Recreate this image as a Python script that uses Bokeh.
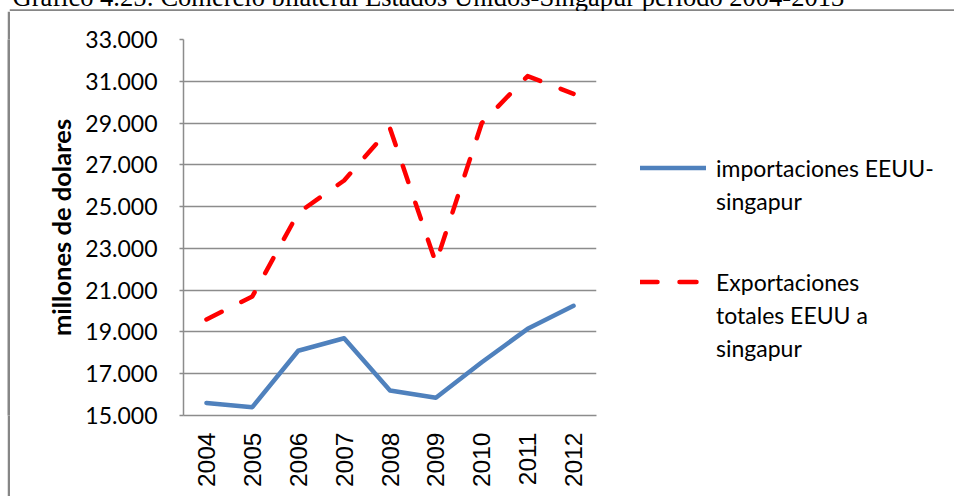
from math import pi
from bokeh.plotting import figure
from bokeh.layouts import column, row
from bokeh.models import (FactorRange, Range1d, FixedTicker, Legend, LegendItem,
                          Label, Span)
from bokeh.embed import file_html
from bokeh.resources import INLINE

# ---- data ----
years = ["2004", "2005", "2006", "2007", "2008", "2009", "2010", "2011", "2012"]
importaciones = [15600, 15400, 18100, 18700, 16200, 15850, 17550, 19150, 20250]
exportaciones = [19600, 20700, 24700, 26250, 28750, 22300, 29000, 31250, 30400]
y_ticks = [15000, 17000, 19000, 21000, 23000, 25000, 27000, 29000, 31000, 33000]
y_tick_labels = ["15.000", "17.000", "19.000", "21.000", "23.000",
                 "25.000", "27.000", "29.000", "31.000", "33.000"]
legend_imp_lines = ["importaciones EEUU-", "singapur"]
legend_exp_lines = ["Exportaciones", "totales EEUU a", "singapur"]
title_text = "Gráfico 4.25: Comercio bilateral Estados Unidos-Singapur periodo 2004-2013"
y_label = "millones de dolares"

GRID = "#8c8c8c"
BOX = "#868686"
BLUE = "#4F81BD"
RED = "#FF0000"


def bare(fig):
    fig.xgrid.grid_line_color = None
    fig.ygrid.grid_line_color = None
    fig.outline_line_color = None
    fig.background_fill_color = "white"
    fig.border_fill_color = "white"
    return fig


# ---- caption strip (mostly above the window) with the top edge of the chart box ----
tfig = bare(figure(width=954, height=32, x_range=Range1d(0, 945), y_range=Range1d(0, 32),
                   min_border_left=9, min_border_right=0, min_border_top=0,
                   min_border_bottom=0, x_axis_location=None, y_axis_location=None,
                   output_backend="svg", toolbar_location=None, margin=(-21, 0, 0, 0)))
tfig.add_layout(Span(location=1, dimension="width", line_color=BOX, line_width=2.5))
tfig.add_layout(Label(x=3, y=15, x_units="screen", y_units="screen", text=title_text,
                      text_font="Liberation Serif", text_font_size="26.5px",
                      text_baseline="alphabetic", text_color="black"))

# ---- left edge of the chart box (a thin grey strip) ----
lfig = figure(width=3, height=485, x_range=Range1d(0, 1), y_range=Range1d(0, 1),
              min_border_left=0, min_border_right=0, min_border_top=0,
              min_border_bottom=0, x_axis_location=None, y_axis_location=None,
              output_backend="svg", toolbar_location=None, margin=(0, 0, 0, 7))
lfig.xgrid.grid_line_color = None
lfig.ygrid.grid_line_color = None
lfig.outline_line_color = None
lfig.background_fill_color = BOX
lfig.border_fill_color = BOX

# ---- main chart ----
p = figure(x_range=FactorRange(*years), y_range=Range1d(15000, 33000),
           width=588, height=485,
           min_border_left=173, min_border_right=2,
           min_border_top=28, min_border_bottom=81,
           output_backend="svg", toolbar_location=None)
p.background_fill_color = "white"
p.border_fill_color = "white"
p.outline_line_color = None

# y axis
p.yaxis.ticker = FixedTicker(ticks=y_ticks)
p.yaxis.major_label_overrides = {t: l for t, l in zip(y_ticks, y_tick_labels)}
p.yaxis.major_label_text_font = "Lato"
p.yaxis.major_label_text_font_size = "23px"
p.yaxis.major_label_text_color = "black"
p.yaxis.axis_line_color = GRID
p.yaxis.axis_line_width = 1.5
p.yaxis.major_tick_line_color = GRID
p.yaxis.major_tick_line_width = 1.5
p.yaxis.major_tick_out = 4
p.yaxis.major_tick_in = 0
p.yaxis.minor_tick_line_color = None
p.yaxis.major_label_standoff = 22
p.yaxis.axis_label = y_label
p.yaxis.axis_label_text_font = "Lato"
p.yaxis.axis_label_text_font_style = "bold"
p.yaxis.axis_label_text_font_size = "25.5px"
p.yaxis.axis_label_text_color = "black"
p.yaxis.axis_label_standoff = 6

# x axis
p.xaxis.major_label_orientation = pi / 2
p.xaxis.major_label_text_font = "Liberation Sans"
p.xaxis.major_label_text_font_size = "24.5px"
p.xaxis.major_label_text_color = "black"
p.xaxis.axis_line_color = GRID
p.xaxis.axis_line_width = 1.5
p.xaxis.major_tick_line_color = None
p.xaxis.major_tick_out = 0
p.xaxis.major_tick_in = 0
p.xaxis.major_label_standoff = 17

# grid
p.xgrid.grid_line_color = None
p.ygrid.ticker = FixedTicker(ticks=y_ticks)
p.ygrid.grid_line_color = GRID
p.ygrid.grid_line_width = 1.5

# series
p.line(years, importaciones, line_color=BLUE, line_width=4.5,
       line_join="round", line_cap="round")
p.line(years, exportaciones, line_color=RED, line_width=4.5,
       line_dash="17 22", line_join="round", line_cap="round")

# ---- legend panel (same series styles; the data lies outside this panel's range) ----
legfig = bare(figure(width=356, height=485, x_range=FactorRange(*years),
                     y_range=Range1d(0, 1),
                     min_border_left=0, min_border_right=0, min_border_top=28,
                     min_border_bottom=81, x_axis_location=None, y_axis_location=None,
                     output_backend="svg", toolbar_location=None))
key_blue = legfig.line(years, importaciones, line_color=BLUE, line_width=4.5,
                       line_join="round", line_cap="round")
key_red = legfig.line(years, exportaciones, line_color=RED, line_width=4.5,
                      line_dash="17 22", line_join="round", line_cap="round")
key_none = legfig.line(years, importaciones, line_alpha=0)

common = dict(glyph_width=66, glyph_height=33, label_standoff=10, spacing=0,
              padding=0, margin=0, border_line_color=None, background_fill_alpha=0,
              label_text_font="Lato", label_text_font_size="23px", label_height=33,
              label_text_color="black")
leg_imp = Legend(items=[LegendItem(label=legend_imp_lines[0], renderers=[key_blue]),
                        LegendItem(label=legend_imp_lines[1], renderers=[key_none])],
                 location=(42, 198), **common)
leg_exp = Legend(items=[LegendItem(label=legend_exp_lines[0], renderers=[key_red]),
                        LegendItem(label=legend_exp_lines[1], renderers=[key_none]),
                        LegendItem(label=legend_exp_lines[2], renderers=[key_none])],
                 location=(42, 51), **common)
legfig.add_layout(leg_imp)
legfig.add_layout(leg_exp)

layout = column(tfig, row(lfig, p, legfig, spacing=0), spacing=0)

open("out.html", "w").write(file_html(layout, INLINE))
